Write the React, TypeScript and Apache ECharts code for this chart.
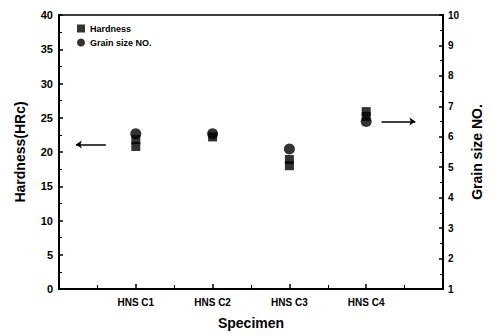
import React, { useEffect, useRef } from "react";
import * as echarts from "echarts";

const categories = ["HNS C1", "HNS C2", "HNS C3", "HNS C4"];
// hardness readings (HRc): [category index (1-based), value]
const hardnessPoints: [number, number][] = [
  [1, 20.8],
  [1, 21.8],
  [2, 22.2],
  [3, 18.0],
  [3, 18.9],
  [4, 25.2],
  [4, 25.9],
];
// grain size numbers: [category index (1-based), value]
const grainPoints: [number, number][] = [
  [1, 6.1],
  [2, 6.1],
  [3, 5.6],
  [4, 6.5],
];
const leftArrow = { from: [0.61, 21.1], to: [0.22, 21.1] };
const rightArrow = { from: [4.2, 6.5], to: [4.64, 6.5] };

const FONT = "Liberation Sans, Arial, sans-serif";

export default function App() {
  const ref = useRef<HTMLDivElement>(null);
  useEffect(() => {
    if (!ref.current) return;
    const chart = echarts.init(ref.current, undefined, { renderer: "svg" });
    const axisLine = { show: true, lineStyle: { color: "#000", width: 2 } };
    const label = { color: "#000", fontWeight: "bold" as const, fontFamily: FONT, fontSize: 11 };
    chart.setOption({
      animation: false,
      backgroundColor: "#fff",
      grid: { left: 59, right: 51, top: 15, bottom: 47, show: true, borderColor: "#000", borderWidth: 1.5 },
      legend: {
        left: 72,
        top: 19,
        orient: "vertical",
        itemWidth: 8,
        itemHeight: 8,
        itemGap: 5,
        textStyle: { color: "#000", fontSize: 9, fontFamily: FONT, fontWeight: "bold" },
        data: [
          { name: "Hardness", icon: "rect" },
          { name: "Grain size NO.", icon: "circle" },
        ],
      },
      xAxis: {
        type: "value",
        min: 0,
        max: 5,
        interval: 1,
        name: "Specimen",
        nameLocation: "middle",
        nameGap: 27,
        nameTextStyle: { ...label, fontSize: 14 },
        axisLine,
        axisTick: { show: true, inside: true, length: 5, lineStyle: { color: "#000", width: 1.5 } },
        minorTick: { show: true, splitNumber: 2, length: 4, lineStyle: { color: "#000" } },
        splitLine: { show: false },
        axisLabel: {
          ...label,
          fontSize: 10,
          margin: 8,
          formatter: (v: number) => (v >= 1 && v <= categories.length && Number.isInteger(v) ? categories[v - 1] : ""),
        },
      },
      yAxis: [
        {
          type: "value",
          min: 0,
          max: 40,
          interval: 5,
          name: "Hardness(HRc)",
          nameLocation: "middle",
          nameGap: 32,
          nameTextStyle: { ...label, fontSize: 14 },
          axisLine,
          axisTick: { show: true, inside: true, length: 4, lineStyle: { color: "#000", width: 1.5 } },
          minorTick: { show: true, splitNumber: 2, length: 3, lineStyle: { color: "#000" } },
          splitLine: { show: false },
          axisLabel: { ...label, margin: 6 },
        },
        {
          type: "value",
          min: 1,
          max: 10,
          interval: 1,
          position: "right",
          name: "Grain size NO.",
          nameLocation: "middle",
          nameGap: 24,
          nameRotate: 90,
          nameTextStyle: { ...label, fontSize: 14 },
          axisLine,
          axisTick: { show: true, inside: true, length: 4, lineStyle: { color: "#000", width: 1.5 } },
          minorTick: { show: true, splitNumber: 2, length: 3, lineStyle: { color: "#000" } },
          splitLine: { show: false },
          axisLabel: { ...label, fontSize: 10, margin: 5 },
        },
      ],
      series: [
        {
          name: "Hardness",
          type: "scatter",
          yAxisIndex: 0,
          symbol: "rect",
          symbolSize: [9, 9],
          itemStyle: { color: "#000" },
          data: hardnessPoints,
          markLine: {
            silent: true,
            symbol: ["none", "arrow"],
            symbolSize: [6, 6],
            label: { show: false },
            lineStyle: { color: "#000", width: 1.5, type: "solid" },
            data: [[{ coord: leftArrow.from }, { coord: leftArrow.to }]],
          },
        },
        {
          name: "Grain size NO.",
          type: "scatter",
          yAxisIndex: 1,
          symbol: "circle",
          symbolSize: 11,
          itemStyle: { color: "#000" },
          data: grainPoints,
          markLine: {
            silent: true,
            symbol: ["none", "arrow"],
            symbolSize: [6, 6],
            label: { show: false },
            lineStyle: { color: "#000", width: 1.5, type: "solid" },
            data: [[{ coord: rightArrow.from }, { coord: rightArrow.to }]],
          },
        },
      ],
    });
    return () => chart.dispose();
  }, []);
  return <div ref={ref} style={{ width: 494, height: 336, position: "absolute", left: 0, top: 0 }} />;
}
